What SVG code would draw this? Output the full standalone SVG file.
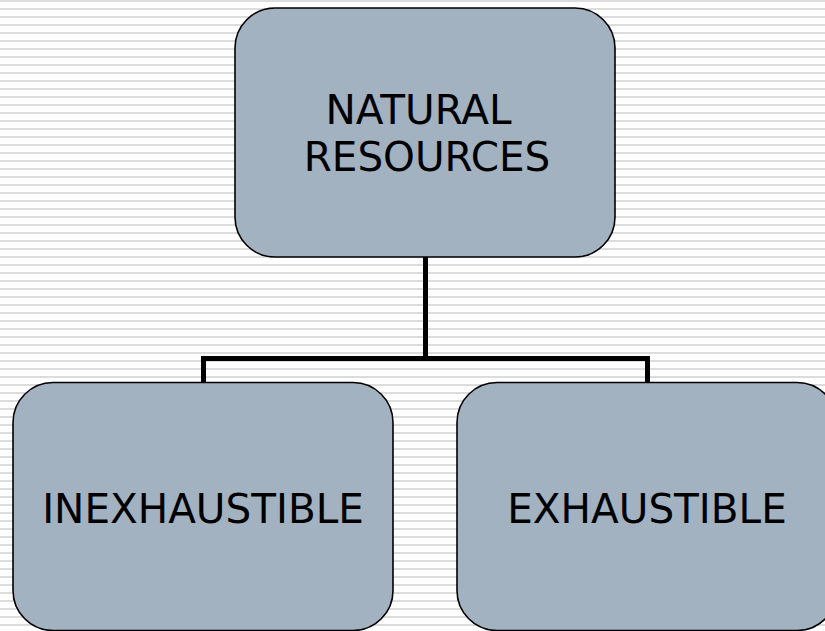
<svg xmlns="http://www.w3.org/2000/svg" width="825" height="631" viewBox="0 0 825 631">
  <defs>
    <pattern id="stripes" x="0" y="0" width="8" height="8" patternUnits="userSpaceOnUse">
      <rect x="0" y="0" width="8" height="8" fill="#ffffff"/>
      <rect x="0" y="0" width="8" height="2" fill="#dcdcdc"/>
    </pattern>
  </defs>
  <style>
    .box { fill: #a3b2c1; stroke: #000000; stroke-width: 1.6; }
    .lbl { font-family: "DejaVu Sans", Verdana, sans-serif; font-size: 40.5px; fill: #000000; text-anchor: middle; }
    .conn { fill: none; stroke: #000000; stroke-width: 5; stroke-linejoin: miter; }
  </style>
  <rect x="0" y="0" width="825" height="631" fill="url(#stripes)"/>
  <g id="connectors">
    <path class="conn" d="M425.5,257 V358.5 M203.5,382 V358.5 H647.5 V382"/>
  </g>
  <g id="natural-resources">
    <rect class="box" x="235" y="8" width="380" height="249" rx="40" ry="40"/>
    <text class="lbl" x="418.5" y="124">NATURAL</text>
    <text class="lbl" x="427" y="171">RESOURCES</text>
  </g>
  <g id="inexhaustible">
    <rect class="box" x="13" y="382.5" width="380" height="248" rx="40" ry="40"/>
    <text class="lbl" x="203" y="523">INEXHAUSTIBLE</text>
  </g>
  <g id="exhaustible">
    <rect class="box" x="457" y="382.5" width="380" height="248" rx="40" ry="40"/>
    <text class="lbl" x="647" y="523">EXHAUSTIBLE</text>
  </g>
</svg>
